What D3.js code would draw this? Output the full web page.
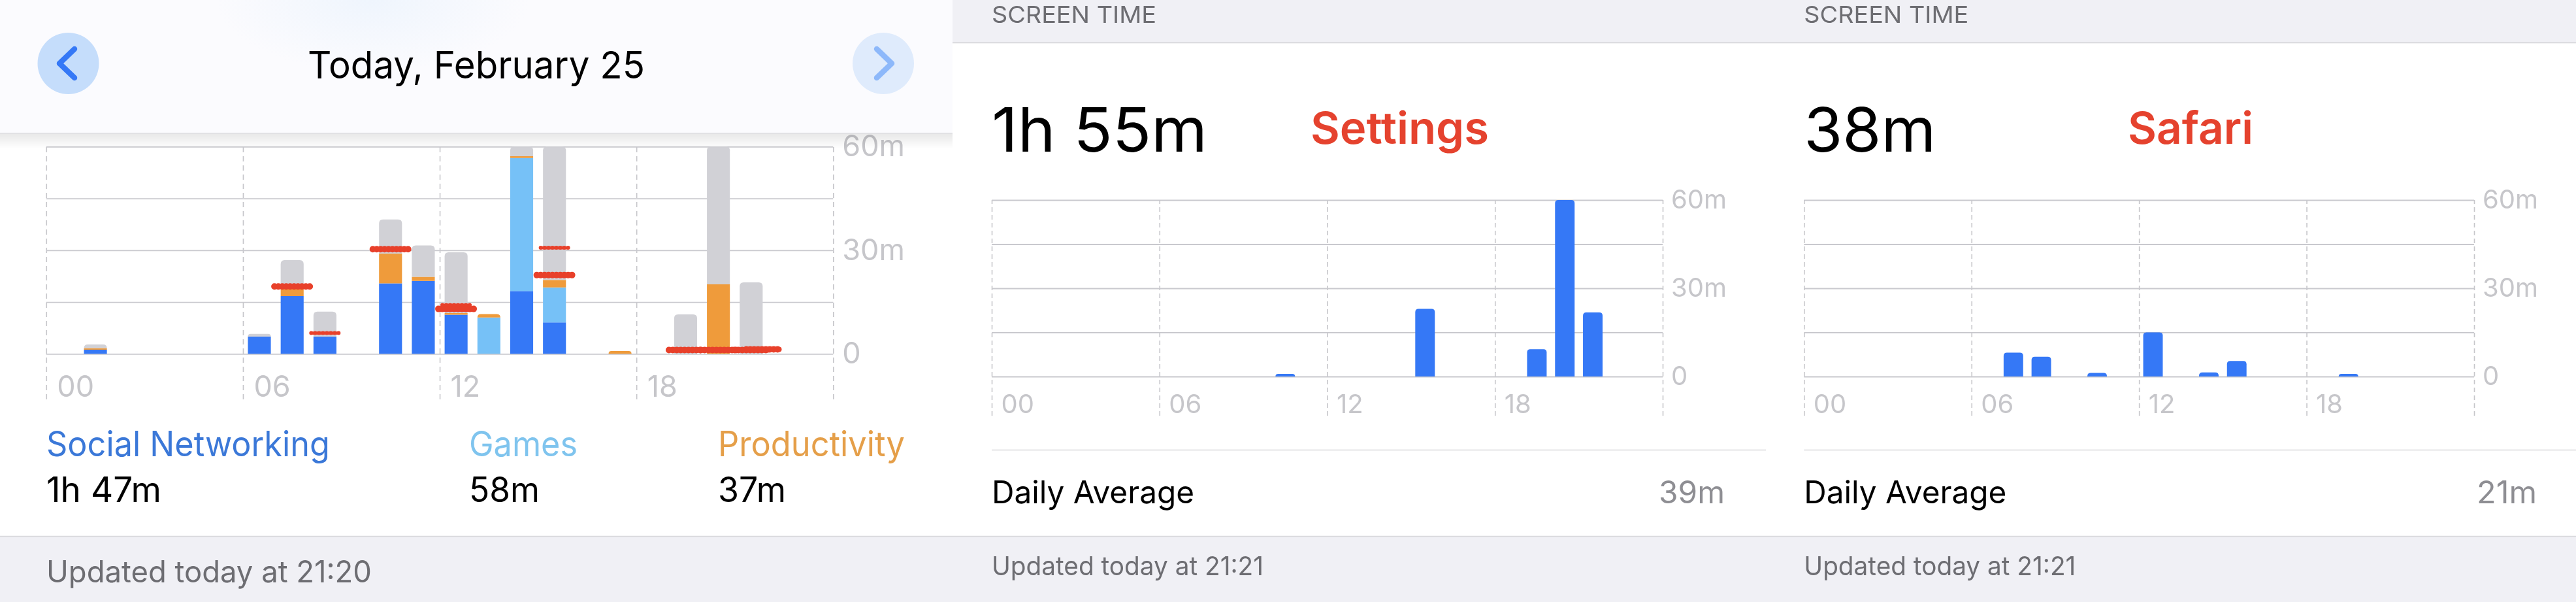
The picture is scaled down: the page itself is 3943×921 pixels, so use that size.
<!DOCTYPE html>
<html><head><meta charset="utf-8">
<script src="https://cdn.jsdelivr.net/npm/d3@7"></script>
<style>
html,body{margin:0;padding:0;background:#fff}
svg{display:block}
text{font-family:Inter,Roboto,"Noto Sans",sans-serif}
</style></head><body>
<svg id="c" width="3943" height="921" viewBox="0 0 3943 921"></svg>
<script>
// ---- data ----
const hours = d3.range(24);
const xTickLabels = ["00","06","12","18"];
const yTickValues = [0,15,30,45,60];
const yTickLabels = {0:"0",30:"30m",60:"60m"};
// panel 1: minutes per hour, stacked
const p1Hours  = [1,6,7,8,10,11,12,13,14,15,17,19,20,21];
const p1Social = [1.2,5,16.7,5,20.4,21.1,11.3,0,18.2,9.1,0,0,0,0];
const p1Games  = [0,0,0,0,0,0,0,10.5,38.5,10.1,0,0,0,0];
const p1Prod   = [0.4,0,2.8,0,8.6,1.2,0.5,1,0.5,2.2,0.8,0,20.1,0];
const p1Other  = [1.1,0.8,7.6,7.2,9.9,9.1,17.6,0,2.8,38.6,0,11.4,39.9,20.7];
const p1Categories = ["Social Networking","Games","Productivity"];
const p1Totals = ["1h 47m","58m","37m"];
// scribbled-over marks in panel 1: hour, minutes, span in hours
const markHours  = [7,10,8,12,12,15,15,19,20,21,21.35];
const markValues = [19.5,30.3,6,13,14.1,22.8,30.7,1.1,1.1,1.1,1.3];
const markSpans  = [1.08,1.08,0.84,1.08,0.84,1.08,0.84,1.02,1.08,1.02,1.0];
// panel 2, Settings
const settingsHours = [10,15,19,20,21];
const settingsMins  = [0.9,23,9.3,60,21.8];
// panel 3, Safari
const safariHours = [7,8,10,12,14,15,19];
const safariMins  = [8.1,6.7,1.2,15,1.4,5.3,0.9];

// ---- palette ----
const BLUE="#3478f6", LIGHT="#76c1f7", ORANGE="#ef9b3a", GRAY="#d1d1d6", RED="#e8412a",
      GRID="#c9c9ce", TICK="#c6c6ca", BAND="#f0f0f5", SUB="#6d6d72";

const root = d3.select("#c");
const defs = root.append("defs");
const soft = defs.append("filter").attr("id","soft").attr("filterUnits","userSpaceOnUse")
  .attr("x",0).attr("y",0).attr("width",3943).attr("height",921);
soft.append("feGaussianBlur").attr("stdDeviation",0.6);
const glow = defs.append("radialGradient").attr("id","glow");
glow.append("stop").attr("offset","0%").attr("stop-color","#eff5fd");
glow.append("stop").attr("offset","100%").attr("stop-color","#fbfbfe");
const sh = defs.append("linearGradient").attr("id","shade").attr("x1",0).attr("x2",0).attr("y1",0).attr("y2",1);
sh.append("stop").attr("offset","0%").attr("stop-color","#000").attr("stop-opacity",0.09);
sh.append("stop").attr("offset","100%").attr("stop-color","#000").attr("stop-opacity",0);
const svg = root.append("g").attr("filter","url(#soft)");

function label(x,y,str,o){
  const t = svg.append("text").attr("x",x).attr("y",y).text(str)
    .attr("font-size",o.size).attr("fill",o.fill||"#000").attr("font-weight",o.weight||400)
    .attr("text-anchor",o.anchor||"start");
  if(o.width) t.attr("textLength",o.width).attr("lengthAdjust","spacingAndGlyphs");
  return t;
}
function topRounded(x,y,w,h,r){
  r=Math.min(r,h);
  return `M${x},${y+h}V${y+r}Q${x},${y} ${x+r},${y}H${x+w-r}Q${x+w},${y} ${x+w},${y+r}V${y+h}Z`;
}
function chart(o){
  const g = svg.append("g");
  const band = d3.scaleBand().domain(hours).range([o.x0,o.x1]).paddingInner(0.3).paddingOuter(0.15);
  const xl = d3.scaleLinear().domain([0,24]).range([o.x0,o.x1]);
  const y = d3.scaleLinear().domain([0,60]).range([o.y0,o.y60]);
  const ax = g.append("g").attr("transform",`translate(0,${o.yEnd})`)
    .call(d3.axisBottom(xl).tickValues([0,6,12,18,24]).tickSize(o.y60-o.yEnd)
      .tickFormat((d,i)=>xTickLabels[i]||""));
  ax.select(".domain").remove();
  ax.selectAll("line").attr("stroke",TICK).attr("stroke-width",1.6).attr("stroke-dasharray",o.dash);
  ax.selectAll("text").attr("fill",TICK).attr("font-size",o.tickSize).attr("text-anchor","start")
    .attr("x",o.tickDx).attr("y",o.tickDy).attr("dy",0);
  const ay = g.append("g").attr("transform",`translate(${o.x1},0)`)
    .call(d3.axisRight(y).tickValues(yTickValues).tickSize(o.x0-o.x1).tickPadding(0)
      .tickFormat(d=>yTickLabels[d]||""));
  ay.select(".domain").remove();
  ay.selectAll("line").attr("stroke",GRID).attr("stroke-width",1.8);
  ay.selectAll("text").attr("fill",TICK).attr("font-size",o.tickSize).attr("x",o.yLabelDx).attr("text-anchor","start");
  const rows = o.hours.map((h,i)=>{
    const r={hour:h}; o.series.forEach(s=>r[s.key]=s.values[i]); return r;});
  const stack = d3.stack().keys(o.series.map(s=>s.key))(rows);
  const colour = d3.scaleOrdinal().domain(o.series.map(s=>s.key)).range(o.series.map(s=>s.color));
  stack.forEach((layer,li)=>{
    g.append("g").attr("fill",colour(layer.key)).selectAll("path").data(layer).join("path")
     .filter(d=>d[1]>d[0])
     .attr("d",d=>{
        const isTop = !stack.slice(li+1).some(l=>{const e=l.find(z=>z.data.hour===d.data.hour);return e[1]>e[0];});
        const X=band(d.data.hour), W=band.bandwidth(), Y=y(d[1]), H=y(d[0])-y(d[1]);
        return isTop ? topRounded(X,Y,W,H,o.radius) : `M${X},${Y}h${W}v${H}h${-W}Z`;
     });
  });
  return {band,y,g,xl};
}

// ---- backgrounds ----
svg.append("rect").attr("width",3943).attr("height",921).attr("fill","#fff");
[[1458,2703],[2703,3943]].forEach(([a,b])=>{
  svg.append("rect").attr("x",a).attr("y",0).attr("width",b-a).attr("height",65).attr("fill",BAND);
  svg.append("rect").attr("x",a).attr("y",820).attr("width",b-a).attr("height",101).attr("fill",BAND);
  svg.append("line").attr("x1",a).attr("x2",b).attr("y1",65.5).attr("y2",65.5).attr("stroke","#d2d2d6").attr("stroke-width",1.5);
});
svg.append("rect").attr("x",0).attr("y",820).attr("width",1458).attr("height",101).attr("fill",BAND);
svg.append("line").attr("x1",0).attr("x2",3943).attr("y1",820.5).attr("y2",820.5).attr("stroke","#d6d6da").attr("stroke-width",1.5);

// ---- panel 1 ----
const c1 = chart({x0:70.8,x1:1275.3,y0:541.3,y60:224.3,yEnd:611,tickSize:45,tickDx:16,tickDy:-4,yLabelDx:14,radius:6,dash:"8 6",
  hours:p1Hours,series:[
    {key:"social",values:p1Social,color:BLUE},
    {key:"games",values:p1Games,color:LIGHT},
    {key:"prod",values:p1Prod,color:ORANGE},
    {key:"other",values:p1Other,color:GRAY}]});
const marks = markHours.map((h,i)=>({h,v:markValues[i],s:markSpans[i]}));
const markX = d3.scaleLinear().domain([0,24]).range([70.8,1275.3]);
[[8,"none"],[10,"0 6"]].forEach(([w,dash])=>{
  c1.g.append("g").selectAll("line").data(marks).join("line")
    .attr("x1",d=>markX(d.h+0.5-d.s/2)).attr("x2",d=>markX(d.h+0.5+d.s/2))
    .attr("y1",d=>c1.y(d.v)).attr("y2",d=>c1.y(d.v))
    .attr("stroke",RED).attr("stroke-linecap","round")
    .attr("stroke-width",d=>(d.s<1?w*0.6:w)).attr("stroke-dasharray",dash==="none"?null:dash);
});
// header
svg.append("rect").attr("x",0).attr("y",204).attr("width",1458).attr("height",24).attr("fill","url(#shade)");
svg.append("rect").attr("x",0).attr("y",0).attr("width",1458).attr("height",204).attr("fill","#fbfbfe");
svg.append("ellipse").attr("cx",570).attr("cy",0).attr("rx",240).attr("ry",110).attr("fill","url(#glow)");
svg.append("line").attr("x1",0).attr("x2",1458).attr("y1",204).attr("y2",204).attr("stroke","#dcdce0").attr("stroke-width",1.5);
svg.append("circle").attr("cx",104.5).attr("cy",97).attr("r",47).attr("fill","#c5ddfb");
svg.append("circle").attr("cx",1352).attr("cy",97).attr("r",47).attr("fill","#dfebfc");
const chevron = (x,y,dir,col)=>svg.append("path")
  .attr("d",`M${x+dir*12},${y-22}L${x-dir*11},${y}L${x+dir*12},${y+22}`)
  .attr("fill","none").attr("stroke",col).attr("stroke-width",8.5).attr("stroke-linecap","round").attr("stroke-linejoin","round");
chevron(102,97,1,BLUE); chevron(1354,97,-1,"#8db8fa");
label(471,120,"Today, February 25",{size:58,width:516});
// legend
const legX=[71,718,1099], legW=[434,166,286], valW=[176,108,104], legC=["#3a78d8","#7fc4ee","#e59f4a"];
p1Categories.forEach((c,i)=>{
  label(legX[i],698,c,{size:53,width:legW[i],fill:legC[i]});
  label(legX[i],768,p1Totals[i],{size:53,width:valW[i]});
});
label(71,891,"Updated today at 21:20",{size:46,width:498,fill:SUB});

// ---- panels 2 and 3 ----
const panels=[
 {x0:1518,x1:2545,hours:settingsHours,vals:settingsMins,big:"1h 55m",bigW:330,app:"Settings",appX:2006,appW:273,avg:"39m",avgR:2640,avgW:101,sepEnd:2703},
 {x0:2761.3,x1:3787,hours:safariHours,vals:safariMins,big:"38m",bigW:202,app:"Safari",appX:3257,appW:192,avg:"21m",avgR:3883,avgW:92,sepEnd:3943}];
panels.forEach(p=>{
  chart({x0:p.x0,x1:p.x1,y0:576,y60:306,yEnd:636,tickSize:40,tickDx:14,tickDy:-4,yLabelDx:13,radius:5,dash:"7 5",
    hours:p.hours,series:[{key:"mins",values:p.vals,color:BLUE}]});
  svg.append("line").attr("x1",p.x0).attr("x2",p.sepEnd).attr("y1",688.5).attr("y2",688.5).attr("stroke","#d8d8dc").attr("stroke-width",1.5);
  label(p.x0,35,"SCREEN TIME",{size:36,width:252,fill:SUB});
  label(p.x0,232,p.big,{size:94,width:p.bigW});
  label(p.appX,220,p.app,{size:68,width:p.appW,fill:"#e5432d",weight:600});
  label(p.x0,770,"Daily Average",{size:48,width:310});
  label(p.avgR-p.avgW,770,p.avg,{size:48,width:p.avgW,fill:"#8e8e93"});
  label(p.x0,880,"Updated today at 21:21",{size:40,width:416,fill:SUB});
});
</script></body></html>
